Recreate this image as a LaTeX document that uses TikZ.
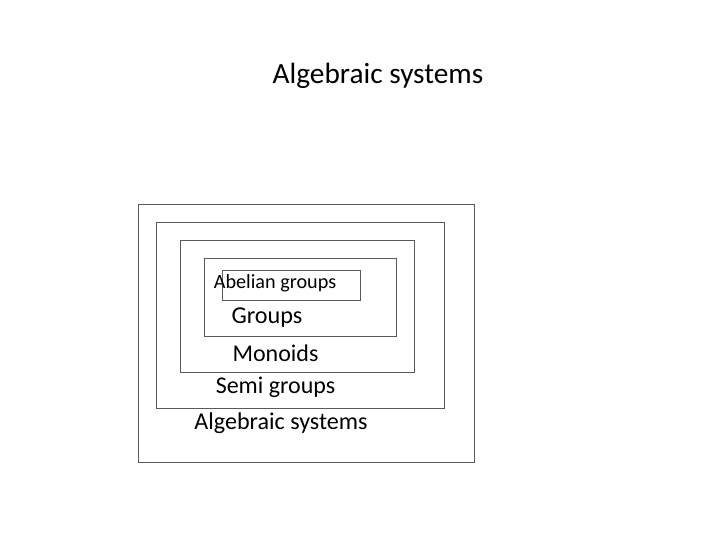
\documentclass[tikz,border=0pt]{standalone}
\usepackage{fontspec}
\setmainfont{Carlito}
\begin{document}
\begin{tikzpicture}[x=1pt,y=-1pt,
  frame/.style={draw=black!65,line width=0.75pt},
  lbl/.style={inner sep=0pt,anchor=center}]
\useasboundingbox (0,0) rectangle (720,540);
\node[lbl,font=\fontsize{29.3}{32}\selectfont] (title) at (378,76) {Algebraic systems};
\draw[frame] (138.3,204.3) rectangle (474,462.3);
\draw[frame] (156.7,222.7) rectangle (444.3,408.3);
\draw[frame] (180.3,240.3) rectangle (414.3,372);
\draw[frame] (204.3,258.3) rectangle (396.7,336);
\draw[frame] (222.3,270.7) rectangle (360,300.3);
\node[lbl,font=\fontsize{20.2}{22}\selectfont] (ab) at (275,283) {Abelian groups};
\node[lbl,font=\fontsize{24.2}{26}\selectfont] (gr) at (267,318) {Groups};
\node[lbl,font=\fontsize{24}{26}\selectfont] (mo) at (275.5,353) {Monoids};
\node[lbl,font=\fontsize{24}{26}\selectfont] (sg) at (275.5,387) {Semi groups};
\node[lbl,font=\fontsize{24.1}{26}\selectfont] (as) at (281,423) {Algebraic systems};
\end{tikzpicture}
\end{document}
